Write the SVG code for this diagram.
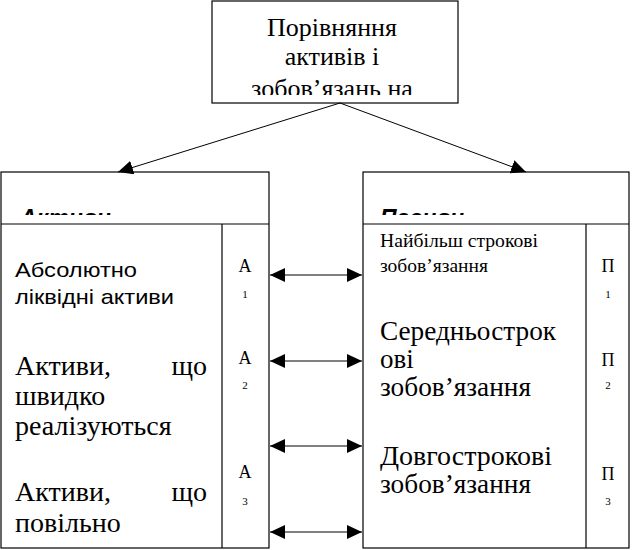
<svg xmlns="http://www.w3.org/2000/svg" width="634" height="550" viewBox="0 0 634 550">
<style>
.box{fill:#fff;stroke:#000;stroke-width:1.2}
.ln{fill:none;stroke:#000;stroke-width:1.2}
.serif{font-family:"Liberation Serif","Times New Roman",serif;fill:#000}
.sans{font-family:"Liberation Sans",Arial,sans-serif;fill:#000}
.conn{stroke:#000;stroke-width:1}
</style>
<defs>
<marker id="ah" markerUnits="userSpaceOnUse" markerWidth="16" markerHeight="14" refX="15" refY="7" orient="auto-start-reverse">
<path d="M0,0 L15,7 L0,14 Z" fill="#000"/>
</marker>
<clipPath id="cTop"><rect x="212" y="0" width="246" height="95"/></clipPath>
<clipPath id="cHead"><rect x="0" y="172" width="634" height="43"/></clipPath>
</defs>

<g id="top-node">
<rect class="box" x="212" y="1" width="246" height="102"/>
<g clip-path="url(#cTop)" class="serif" font-size="26" text-anchor="middle">
<text x="332" y="36">Порівняння</text>
<text x="332" y="65">активів і</text>
<text x="332" y="97">зобов’язань на</text>
</g>
</g>

<g id="assets-node">
<rect class="box" x="1" y="172" width="268" height="376"/>
<line class="ln" x1="1" y1="224" x2="269" y2="224"/>
<line class="ln" x1="222" y1="224" x2="222" y2="548"/>
<g clip-path="url(#cHead)">
<text class="sans" x="20" y="226" font-size="23" font-weight="bold" font-style="italic">Активи</text>
</g>
<text class="sans" x="15" y="277" font-size="21" textLength="122" lengthAdjust="spacingAndGlyphs">Абсолютно</text>
<text class="sans" x="15" y="304" font-size="21" textLength="159" lengthAdjust="spacingAndGlyphs">ліквідні активи</text>
<text class="serif" x="15" y="375" font-size="28">Активи,</text>
<text class="serif" x="207" y="375" font-size="28" text-anchor="end">що</text>
<text class="serif" x="15" y="405" font-size="28">швидко</text>
<text class="serif" x="15" y="435" font-size="28">реалізуються</text>
<text class="serif" x="15" y="501" font-size="28">Активи,</text>
<text class="serif" x="207" y="501" font-size="28" text-anchor="end">що</text>
<text class="serif" x="15" y="532" font-size="28">повільно</text>
<g class="serif" text-anchor="middle">
<text x="245" y="272" font-size="18">А</text>
<text x="245" y="298" font-size="11">1</text>
<text x="245" y="364" font-size="18">А</text>
<text x="245" y="389" font-size="11">2</text>
<text x="245" y="478" font-size="18">А</text>
<text x="245" y="505" font-size="11">3</text>
</g>
</g>

<g id="liabilities-node">
<rect class="box" x="363" y="172" width="266" height="376"/>
<line class="ln" x1="363" y1="224" x2="629" y2="224"/>
<line class="ln" x1="586" y1="224" x2="586" y2="548"/>
<g clip-path="url(#cHead)">
<text class="sans" x="380" y="226" font-size="23" font-weight="bold" font-style="italic">Пасиви</text>
</g>
<text class="serif" x="380" y="247" font-size="18" textLength="158" lengthAdjust="spacingAndGlyphs">Найбільш строкові</text>
<text class="serif" x="380" y="272" font-size="18" textLength="108" lengthAdjust="spacingAndGlyphs">зобов’язання</text>
<text class="serif" x="380" y="340" font-size="27" textLength="176" lengthAdjust="spacingAndGlyphs">Середньострок</text>
<text class="serif" x="380" y="368" font-size="27">ові</text>
<text class="serif" x="380" y="396" font-size="27" textLength="151" lengthAdjust="spacingAndGlyphs">зобов’язання</text>
<text class="serif" x="380" y="465" font-size="27" textLength="172" lengthAdjust="spacingAndGlyphs">Довгострокові</text>
<text class="serif" x="380" y="493" font-size="27" textLength="151" lengthAdjust="spacingAndGlyphs">зобов’язання</text>
<g class="serif" text-anchor="middle">
<text x="608" y="272" font-size="18">П</text>
<text x="608" y="298" font-size="11">1</text>
<text x="608" y="366" font-size="18">П</text>
<text x="608" y="389" font-size="11">2</text>
<text x="608" y="480" font-size="18">П</text>
<text x="608" y="505" font-size="11">3</text>
</g>
</g>

<g id="connectors">
<line class="conn" x1="340" y1="103" x2="118" y2="172" marker-end="url(#ah)"/>
<line class="conn" x1="340" y1="103" x2="526" y2="172" marker-end="url(#ah)"/>
<line class="conn" x1="270" y1="275" x2="362" y2="275" marker-start="url(#ah)" marker-end="url(#ah)"/>
<line class="conn" x1="270" y1="361" x2="362" y2="361" marker-start="url(#ah)" marker-end="url(#ah)"/>
<line class="conn" x1="270" y1="446" x2="362" y2="446" marker-start="url(#ah)" marker-end="url(#ah)"/>
<line class="conn" x1="270" y1="532" x2="362" y2="532" marker-start="url(#ah)" marker-end="url(#ah)"/>
</g>
</svg>
